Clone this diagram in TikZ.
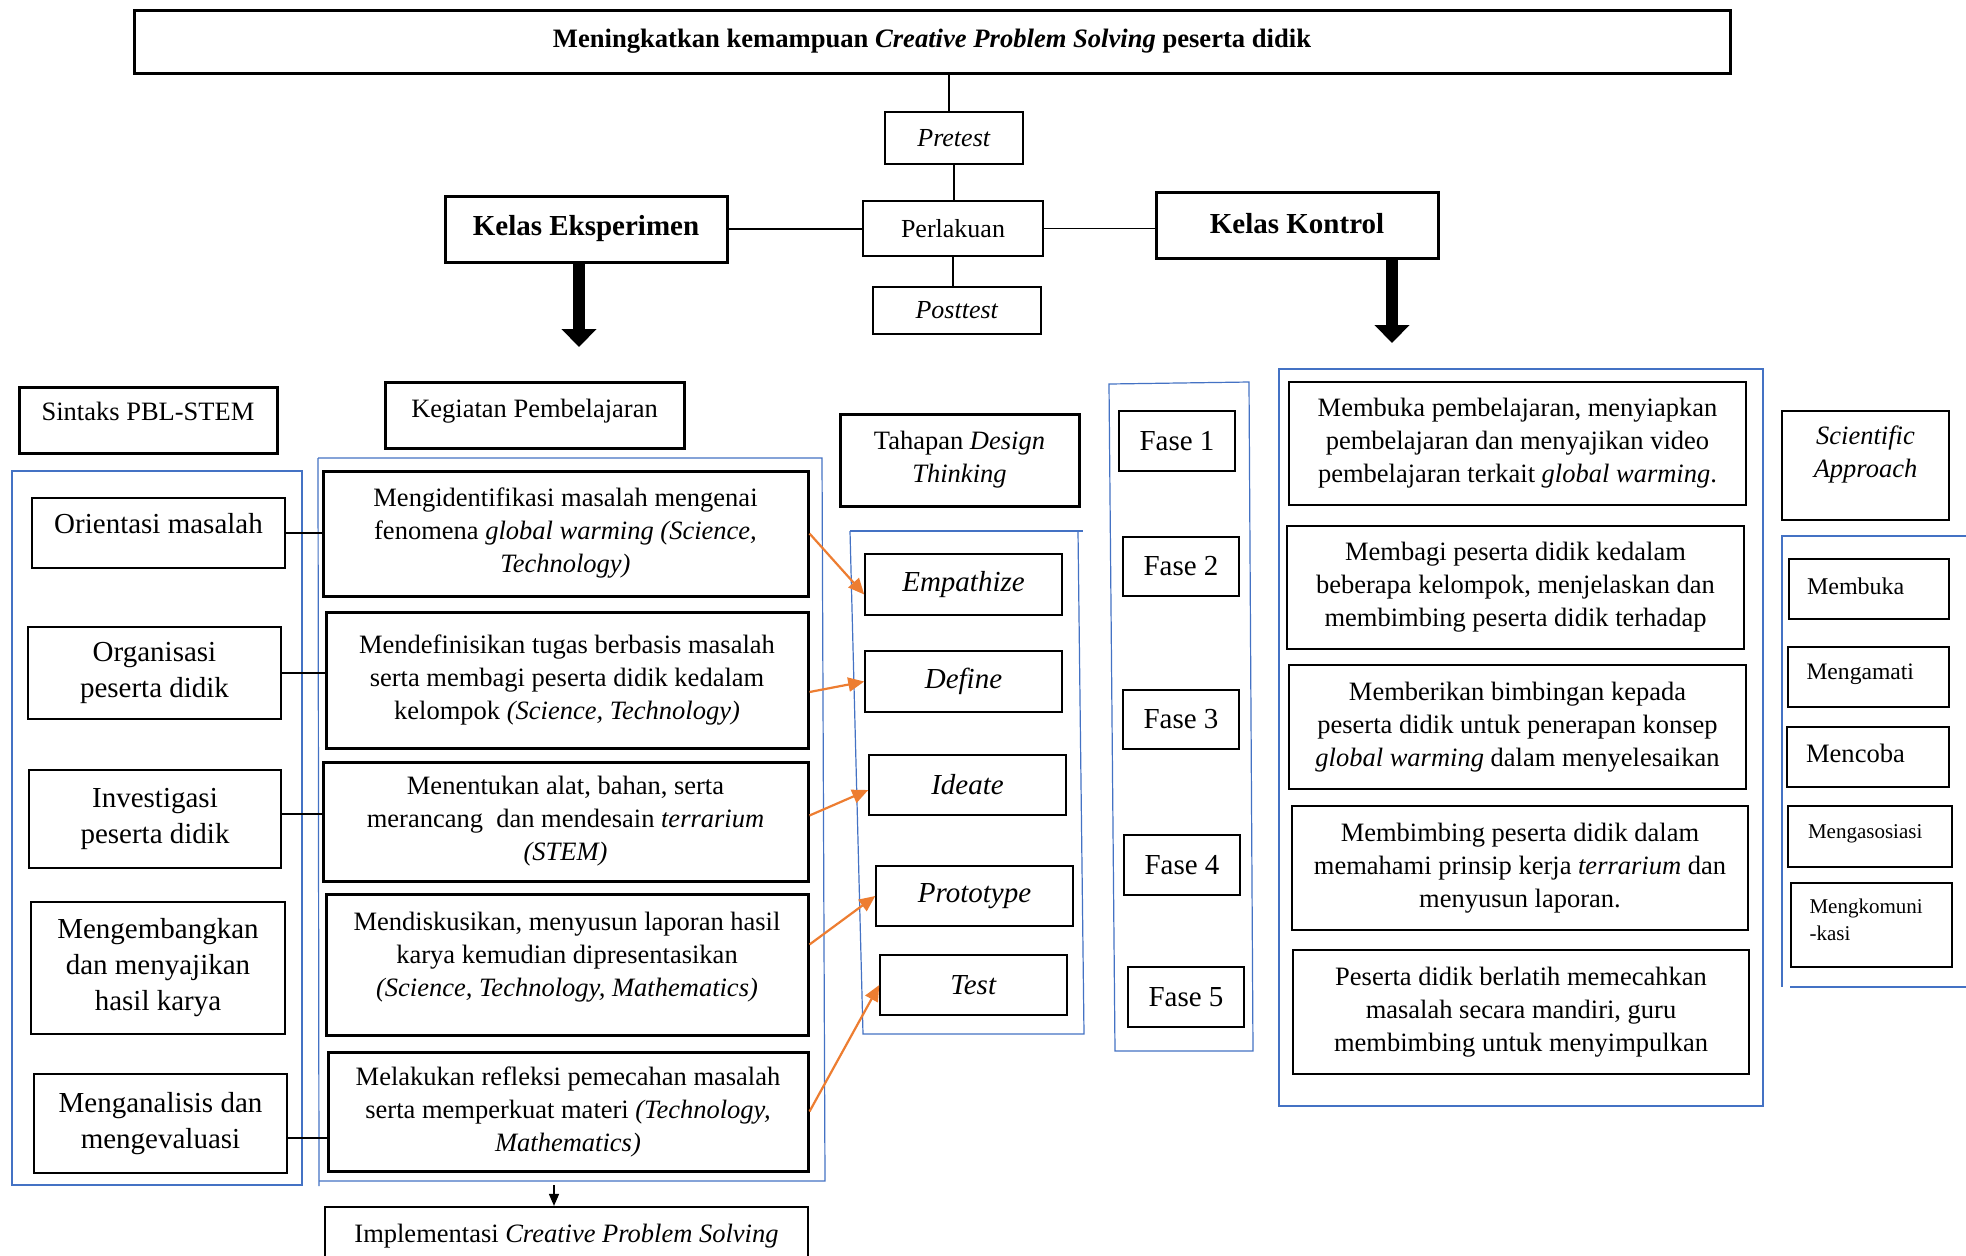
\documentclass[tikz,border=0pt]{standalone}
\usepackage{fontspec}
\setmainfont{Liberation Serif}
\usetikzlibrary{arrows.meta,calc}
\definecolor{wblue}{RGB}{68,114,196}
\definecolor{worange}{RGB}{237,125,49}
\newcommand{\fs}[2]{\fontsize{#1}{#2}\selectfont}
\newcommand{\bx}[7]{%
  \pgfmathsetmacro{\bxcx}{(#2+#4)/2}%
  \pgfmathsetmacro{\bxcy}{(#3+#5)/2}%
  \pgfmathsetmacro{\bxw}{(#4-#2)*0.5}%
  \pgfmathsetmacro{\bxh}{(#5-#3)*0.5}%
  \node[#6,minimum width=\bxw pt,minimum height=\bxh pt] (#1) at (\bxcx,\bxcy) {#7};}
\newcommand{\sitem}[2]{\raisebox{#1}[0pt][0pt]{\parbox{62pt}{\raggedright #2}}}
\newcommand{\upc}[2]{\raisebox{#1}[0pt][0pt]{\begin{tabular}{@{}c@{}}#2\end{tabular}}}
\newcommand{\upl}[2]{\raisebox{#1}[0pt][0pt]{#2}}
\begin{document}
\begin{tikzpicture}[x=0.5pt,y=-0.5pt,
  bxs/.style={draw, rectangle, inner sep=0pt, align=center},
  thk/.style={bxs, line width=1.5pt},
  mid/.style={bxs, line width=1.1pt},
  thn/.style={bxs, line width=0.75pt},
  body/.style={font=\fs{13.25}{16.5}},
  bigf/.style={font=\fs{14.5}{18}},
  link/.style={line width=0.75pt},
  orar/.style={draw=worange, line width=1.1pt, -{Triangle[length=8pt,width=7pt]}},
  blu/.style={draw=wblue, line width=0.6pt},
  bigarrow/.style={line width=6pt, -{Triangle[length=9pt,width=17pt]}},
]
\fill[white] (0,0) rectangle (1966,1255);
\useasboundingbox (0,0) rectangle (1966,1255);

% blue groups
\draw[blu] (12,471) rectangle (302,1185);
\draw[blu] (318,458) -- (822,458) -- (825,1181) -- (319,1181);
\draw[blu] (318,458) -- (319,1186);
\draw[blu] (850,531) -- (1083,531);
\draw[blu] (1078,531) -- (1084,1034) -- (863,1034) -- (850,531);
\draw[blu] (1109,384) -- (1249,382) -- (1253,1051) -- (1115,1051) -- cycle;
\draw[blu] (1279,369) rectangle (1763,1106);
\draw[blu] (1966,536) -- (1782,536) -- (1782,987);
\draw[blu] (1790,987) -- (1966,987);

% top part
\bx{top}{134}{10}{1730}{73}{thk,font=\fs{13.3}{16}}{\textbf{Meningkatkan kemampuan \textit{Creative Problem Solving} peserta didik}}
\bx{pre}{885}{112}{1023}{164}{mid,font=\fs{13}{16}}{\textit{Pretest}}
\bx{per}{863}{201}{1043}{256}{mid,font=\fs{13}{16}}{Perlakuan}
\bx{post}{873}{287}{1041}{334}{mid,font=\fs{13}{16}}{\textit{Posttest}}
\bx{keks}{445}{196}{727}{262}{thk,font=\fs{14.5}{18}}{\textbf{Kelas Eksperimen}}
\bx{kkon}{1156}{192}{1438}{258}{thk,font=\fs{14.5}{18}}{\raisebox{1.5pt}{\textbf{Kelas Kontrol}}}

\coordinate (vx) at (949,0);
\draw[link] (top.south -| vx) -- (pre.north -| vx);
\draw[link] (pre.south) -- (pre.south |- per.north);
\draw[link] (per.south) -- (per.south |- post.north);
\draw[link] (keks.east) -- (keks.east -| per.west);
\draw[link] (per.east) -- (per.east -| kkon.west);

\coordinate (ekstip) at (579,347);
\coordinate (kontip) at (1392,343);
\draw[bigarrow] (keks.south -| ekstip) -- (ekstip);
\draw[bigarrow] (kkon.south -| kontip) -- (kontip);

% headers
\bx{sin}{19}{387}{277}{453}{thk,body}{\upl{0pt}{Sintaks PBL-STEM}}
\bx{keg}{385}{382}{684}{448}{thk,body}{\upl{-1pt}{Kegiatan Pembelajaran}}
\bx{tah}{840}{414}{1079}{506}{thk,body}{Tahapan \textit{Design}\\\textit{Thinking}}
\bx{sci}{1782}{411}{1949}{520}{mid,body}{\upc{2pt}{\textit{Scientific}\\\textit{Approach}}}

% sintaks
\bx{or}{32}{498}{285}{568}{thn,bigf}{\upl{0pt}{Orientasi masalah}}
\bx{org}{28}{627}{281}{719}{thn,bigf}{Organisasi\\peserta didik}
\bx{inv}{29}{770}{281}{868}{thn,bigf}{Investigasi\\peserta didik}
\bx{mgb}{31}{902}{285}{1034}{thn,bigf}{Mengembangkan\\dan menyajikan\\hasil karya}
\bx{man}{34}{1074}{287}{1173}{thn,bigf}{Menganalisis dan\\mengevaluasi}

% kegiatan
\bx{k1}{323}{471}{808}{596}{thk,body}{Mengidentifikasi masalah mengenai\\fenomena \textit{global warming (Science,}\\\textit{Technology)}}
\bx{k2}{326}{612}{808}{748}{thk,body}{Mendefinisikan tugas berbasis masalah\\serta membagi peserta didik kedalam\\kelompok \textit{(Science, Technology)}}
\bx{k3}{323}{762}{808}{881}{thk,body}{Menentukan alat, bahan, serta\\merancang\ \ dan mendesain \textit{terrarium}\\\textit{(STEM)}}
\bx{k4}{326}{894}{808}{1035}{thk,body}{\upc{0pt}{Mendiskusikan, menyusun laporan hasil\\karya kemudian dipresentasikan\\\textit{(Science, Technology, Mathematics)}}}
\bx{k5}{328}{1052}{808}{1171}{thk,body}{Melakukan refleksi pemecahan masalah\\serta memperkuat materi \textit{(Technology,}\\\textit{Mathematics)}}
\bx{impl}{325}{1207}{808}{1265}{mid,body}{Implementasi \textit{Creative Problem Solving}}

\draw[link] (or.east) -- (or.east -| k1.west);
\draw[link] (org.east) -- (org.east -| k2.west);
\draw[link] (inv.east |- 0,814) -- (k3.west |- 0,814);
\draw[link] (man.east |- 0,1138) -- (k5.west |- 0,1138);
\coordinate (kgbot) at (554,1185);
\draw[link,-{Triangle[length=6pt,width=5pt]}] (kgbot) -- (kgbot |- impl.north);

% design thinking
\bx{emp}{865}{554}{1062}{615}{thn,bigf}{\textit{Empathize}}
\bx{def}{865}{651}{1062}{712}{thn,bigf}{\textit{Define}}
\bx{ide}{869}{755}{1066}{815}{thn,bigf}{\textit{Ideate}}
\bx{pro}{876}{866}{1073}{926}{thn,bigf}{\textit{Prototype}}
\bx{tes}{880}{955}{1067}{1015}{thn,bigf}{\textit{Test}}

\draw[orar] (k1.east) -- ($(emp.west)+(0,10)$);
\draw[orar] ($(k2.east)+(0,12)$) -- (def.west);
\draw[orar] ($(k3.east)+(0,-6)$) -- ($(ide.west)+(0,5)$);
\draw[orar] ($(k4.east)+(0,-20)$) -- (pro.west);
\draw[orar] (k5.east) -- (tes.west);

% fase
\bx{f1}{1119}{411}{1235}{471}{thn,bigf}{Fase 1}
\bx{f2}{1123}{537}{1239}{596}{thn,bigf}{Fase 2}
\bx{f3}{1123}{690}{1239}{749}{thn,bigf}{Fase 3}
\bx{f4}{1124}{835}{1240}{895}{thn,bigf}{Fase 4}
\bx{f5}{1128}{967}{1244}{1027}{thn,bigf}{Fase 5}

% kontrol
\bx{c1}{1289}{382}{1746}{505}{mid,body}{Membuka pembelajaran, menyiapkan\\pembelajaran dan menyajikan video\\pembelajaran terkait \textit{global warming}.}
\bx{c2}{1287}{526}{1744}{649}{mid,body}{Membagi peserta didik kedalam\\beberapa kelompok, menjelaskan dan\\membimbing peserta didik terhadap}
\bx{c3}{1289}{665}{1746}{789}{mid,body}{Memberikan bimbingan kepada\\peserta didik untuk penerapan konsep\\\textit{global warming} dalam menyelesaikan}
\bx{c4}{1292}{806}{1748}{930}{mid,body}{Membimbing peserta didik dalam\\memahami prinsip kerja \textit{terrarium} dan\\menyusun laporan.}
\bx{c5}{1293}{950}{1749}{1074}{mid,body}{Peserta didik berlatih memecahkan\\masalah secara mandiri, guru\\membimbing untuk menyimpulkan}

% scientific approach
\bx{s1}{1789}{559}{1949}{619}{thn,font=\fs{12}{14}}{\sitem{-1.75pt}{Membuka}}
\bx{s2}{1788}{647}{1949}{707}{thn,font=\fs{11.8}{14}}{\sitem{-1.75pt}{Mengamati}}
\bx{s3}{1787}{727}{1949}{787}{thn,font=\fs{13.3}{15}}{\sitem{-2pt}{Mencoba}}
\bx{s4}{1788}{806}{1952}{867}{thn,font=\fs{10.5}{13}}{\sitem{-1.25pt}{Mengasosiasi}}
\bx{s5}{1791}{883}{1952}{967}{thn,font=\fs{10.5}{13.5}}{\sitem{0pt}{Mengkomuni\\-kasi}}
\end{tikzpicture}
\end{document}
